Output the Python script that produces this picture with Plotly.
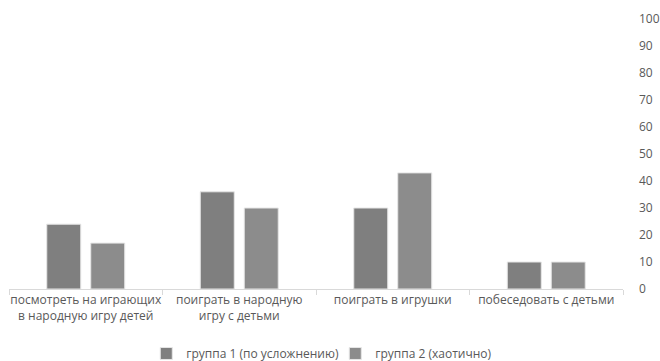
import plotly.graph_objects as go

categories = [
    "посмотреть на играющих<br>в народную игру детей",
    "поиграть в народную<br>игру с детьми",
    "поиграть в игрушки",
    "побеседовать с детьми",
]
group1 = [24, 36, 30, 10]
group2 = [17, 30, 43, 10]
series_names = ["группа 1 (по усложнению)", "группа 2 (хаотично)"]
y_ticks = list(range(0, 101, 10))

FONT = "Open Sans"
TEXT = "#595959"

fig = go.Figure()
fig.add_trace(go.Bar(x=categories, y=group1, name=series_names[0],
                     marker=dict(color="#7f7f7f", line=dict(color="#e6e6e6", width=1))))
fig.add_trace(go.Bar(x=categories, y=group2, name=series_names[1],
                     marker=dict(color="#8c8c8c", line=dict(color="#e6e6e6", width=1))))

fig.update_layout(
    width=660, height=361,
    margin=dict(l=9, r=37, t=19, b=72, autoexpand=False),
    paper_bgcolor="white", plot_bgcolor="white",
    barmode="group", bargap=0.427, bargroupgap=0.227,
    font=dict(family=FONT, size=12, color=TEXT),
    showlegend=True,
    legend=dict(orientation="h", x=0.508, xanchor="center", xref="container",
                y=0.061, yanchor="top", yref="container",
                font=dict(size=12, color=TEXT), itemwidth=30, tracegroupgap=0,
                entrywidth=144, entrywidthmode="pixels"),
)
fig.update_xaxes(
    type="category", showgrid=False, showline=True, linecolor="#d9d9d9", linewidth=1,
    ticks="outside", tickson="boundaries", ticklen=5, tickcolor="#d9d9d9",
    tickfont=dict(size=12, color=TEXT), tickangle=0, automargin=False,
)
fig.update_yaxes(
    side="right", range=[0, 100], tickvals=y_ticks, showgrid=False, showline=False,
    zeroline=False, ticks="", ticklabelstandoff=15, automargin=False,
    tickfont=dict(size=12, color=TEXT),
)

fig.write_html("out.html")
